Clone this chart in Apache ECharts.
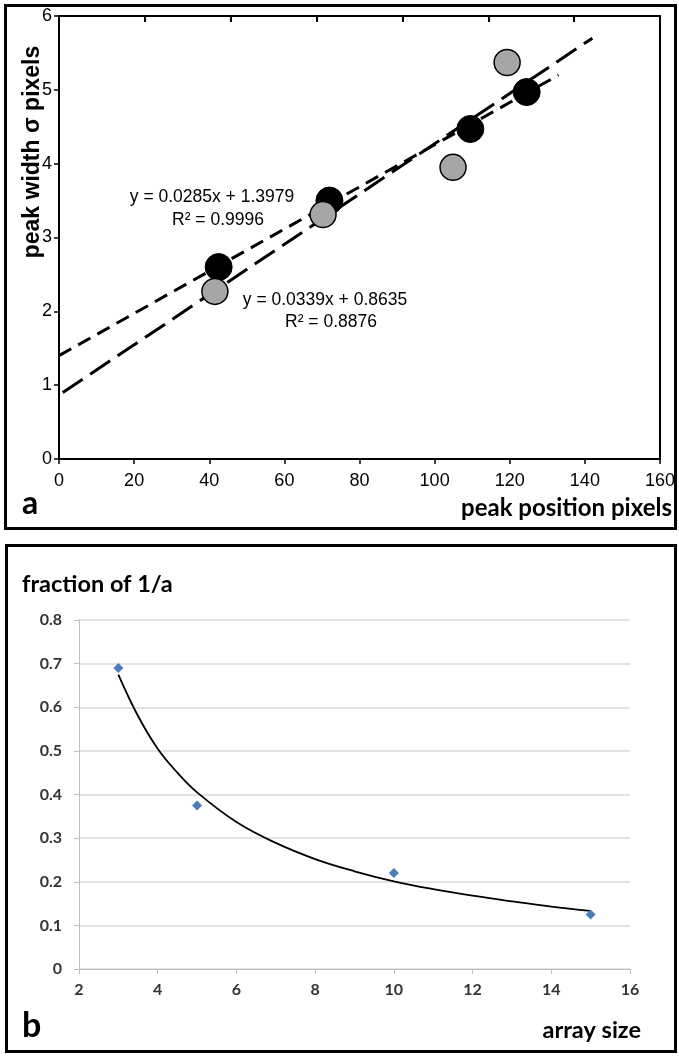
<!DOCTYPE html>
<html><head><meta charset="utf-8">
<script src="https://cdn.jsdelivr.net/npm/echarts@6/dist/echarts.min.js"></script>
<style>html,body{margin:0;padding:0;background:#fff}#c{width:679px;height:1057px}</style>
</head><body><div id="c"></div>
<script>
const ARIAL = "Liberation Sans";
const CAL = "Lato";

// ---- Panel a data ----
const blackPts = [[42.5,2.6],[72,3.5],[109.5,4.47],[124.5,4.97]];
const grayPts = [[41.5,2.27],[70.3,3.31],[104.9,3.95],[119.3,5.37]];
const blackTrend = [[0,1.40],[133,5.2]];
const grayTrend = [[1,0.90],[142,5.7]];
const eqBlack = ['y = 0.0285x + 1.3979','R² = 0.9996'];
const eqGray = ['y = 0.0339x + 0.8635','R² = 0.8876'];
const titlesA = {y:'peak width σ pixels', x:'peak position pixels', panel:'a'};

// ---- Panel b data ----
const arraySize = [3,5,10,15];
const fraction = [0.69,0.375,0.22,0.125];
const fitX = [3,3.5,4,4.5,5,6,7,8,9,10,11,12,13,14,15];
const fitY = [0.675,0.58,0.505,0.45,0.405,0.337,0.289,0.252,0.224,0.201,0.183,0.168,0.155,0.143,0.133];
const titlesB = {y:'fraction of 1/a', x:'array size', panel:'b'};

const chart = echarts.init(document.getElementById('c'), null, {renderer:'canvas'});
const pair = (xs, ys) => xs.map((x,i)=>[x, ys[i]]);

function txt(text, x, y, size, family, weight, opts) {
  return Object.assign({type:'text', x:x, y:y, z:100,
    style:Object.assign({text:text, fontSize:size, fontFamily:family, fontWeight:weight, fill:'#000', align:'center', verticalAlign:'middle'}, (opts&&opts.style)||{})},
    (opts&&opts.el)||{});
}

const option = {
  animation:false,
  backgroundColor:'#fff',
  grid:[
    {left:59, top:16, width:601, height:443},
    {left:79, top:620, width:551, height:349}
  ],
  xAxis:[
    {gridIndex:0, type:'value', min:0, max:160, interval:20, position:'bottom',
     axisLine:{show:true, onZero:false, lineStyle:{color:'#000', width:2}},
     axisTick:{show:true, inside:false, length:5, lineStyle:{color:'#000', width:1.5}},
     axisLabel:{color:'#000', fontFamily:ARIAL, fontSize:18, margin:13},
     splitLine:{show:false}},
    {gridIndex:0, type:'value', min:0, max:7, interval:1, position:'top',
     axisLine:{show:true, onZero:false, lineStyle:{color:'#000', width:2}},
     axisTick:{show:true, inside:true, length:6, lineStyle:{color:'#000', width:2}},
     axisLabel:{show:false}, splitLine:{show:false}},
    {gridIndex:1, type:'value', min:2, max:16, interval:2, position:'bottom',
     axisLine:{show:true, onZero:false, lineStyle:{color:'#bfbfbf', width:1}},
     axisTick:{show:true, inside:false, length:5, lineStyle:{color:'#bfbfbf', width:1}},
     axisLabel:{color:'#333', fontFamily:CAL, fontWeight:'bold', fontSize:16, margin:13},
     splitLine:{show:false}}
  ],
  yAxis:[
    {gridIndex:0, type:'value', min:0, max:6, interval:1, position:'left',
     axisLine:{show:true, onZero:false, lineStyle:{color:'#000', width:2}},
     axisTick:{show:true, inside:false, length:5, lineStyle:{color:'#000', width:1.5}},
     axisLabel:{color:'#000', fontFamily:ARIAL, fontSize:18, margin:7},
     splitLine:{show:false}},
    {gridIndex:0, type:'value', min:0, max:6, interval:1, position:'right',
     axisLine:{show:true, onZero:false, lineStyle:{color:'#000', width:2}},
     axisTick:{show:false}, axisLabel:{show:false}, splitLine:{show:false}},
    {gridIndex:1, type:'value', min:0, max:0.8, interval:0.1, position:'left',
     axisLine:{show:true, onZero:false, lineStyle:{color:'#bfbfbf', width:1}},
     axisTick:{show:true, inside:false, length:5, lineStyle:{color:'#bfbfbf', width:1}},
     axisLabel:{color:'#333', fontFamily:CAL, fontWeight:'bold', fontSize:16, margin:17},
     splitLine:{show:true, lineStyle:{color:'#d9d9d9', width:1.5}}}
  ],
  series:[
    {type:'line', xAxisIndex:0, yAxisIndex:0, data:blackTrend, symbol:'none', z:2,
     lineStyle:{color:'#000', width:3, type:[14,8]}},
    {type:'line', xAxisIndex:0, yAxisIndex:0, data:grayTrend, symbol:'none', z:2,
     lineStyle:{color:'#000', width:3, type:[24,9]}},
    {type:'scatter', xAxisIndex:0, yAxisIndex:0, data:blackPts, symbol:'circle', symbolSize:27, z:3,
     itemStyle:{color:'#000', borderColor:'#000', borderWidth:1, opacity:1}},
    {type:'scatter', xAxisIndex:0, yAxisIndex:0, data:grayPts, symbol:'circle', symbolSize:26, z:4,
     itemStyle:{color:'#a6a6a6', borderColor:'#000', borderWidth:1.5, opacity:1}},
    {type:'line', xAxisIndex:2, yAxisIndex:2, data:pair(fitX, fitY), symbol:'none', smooth:0.4, z:2,
     lineStyle:{color:'#000', width:1.8}},
    {type:'scatter', xAxisIndex:2, yAxisIndex:2, data:pair(arraySize, fraction), symbol:'diamond', symbolSize:10, z:4,
     itemStyle:{color:'#4a7ebb', opacity:1}}
  ],
  graphic:[
    {type:'rect', z:90, shape:{x:5.5, y:5.5, width:670, height:523}, style:{fill:null, stroke:'#000', lineWidth:3}},
    {type:'rect', z:90, shape:{x:6.5, y:545.5, width:669, height:506}, style:{fill:null, stroke:'#000', lineWidth:3}},
    txt(eqBlack[0], 212, 197, 17.5, ARIAL, 'normal'),
    txt(eqBlack[1], 218, 220, 17.5, ARIAL, 'normal'),
    txt(eqGray[0], 325, 300, 17.5, ARIAL, 'normal'),
    txt(eqGray[1], 331, 322, 17.5, ARIAL, 'normal'),
    txt(titlesA.y, 33, 152, 23, ARIAL, 'bold', {el:{rotation:Math.PI/2}}),
    txt(titlesA.x, 672, 508, 24, CAL, 'bold', {style:{align:'right'}}),
    txt(titlesA.panel, 22, 504, 32, CAL, 'bold', {style:{align:'left'}}),
    txt(titlesB.y, 22, 584, 23.5, CAL, 'bold', {style:{align:'left'}}),
    txt(titlesB.x, 641, 1030, 23.5, CAL, 'bold', {style:{align:'right'}}),
    txt(titlesB.panel, 22, 1026, 34, CAL, 'bold', {style:{align:'left'}})
  ]
};
chart.setOption(option);
</script>
</body></html>
